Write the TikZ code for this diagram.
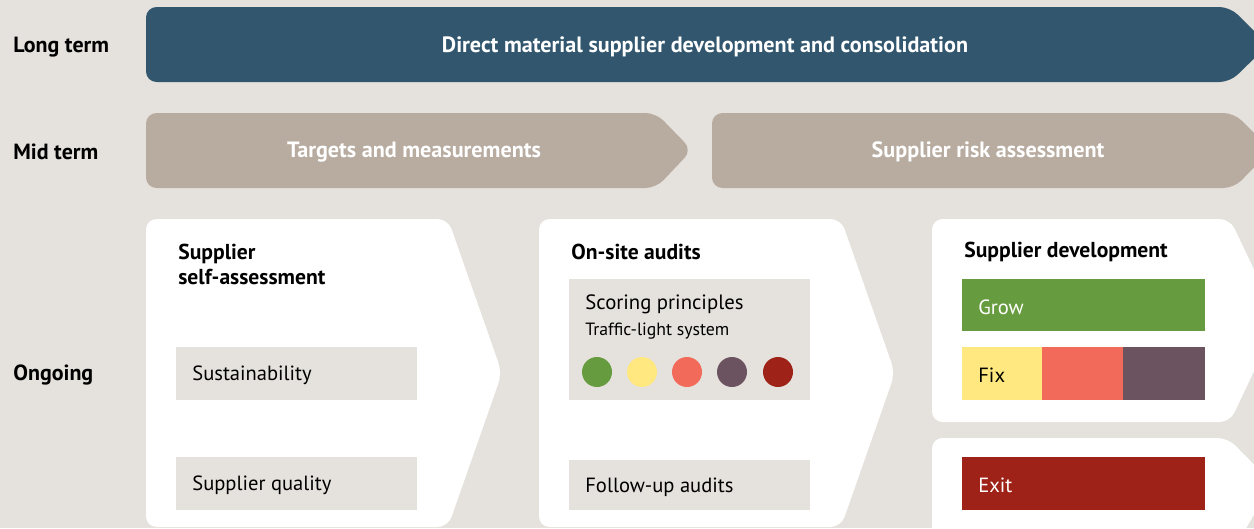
\documentclass[tikz,border=0pt]{standalone}
\usepackage{fontspec}
\setmainfont{PT Sans}
\usetikzlibrary{positioning}
\definecolor{bgc}{HTML}{E5E1DC}
\definecolor{longc}{HTML}{31566E}
\definecolor{midc}{HTML}{B8ACA1}
\definecolor{growc}{HTML}{669C3F}
\definecolor{yelc}{HTML}{FFE880}
\definecolor{salc}{HTML}{F26A5A}
\definecolor{purc}{HTML}{6B545F}
\definecolor{redc}{HTML}{9E2218}
\tikzset{
    rowlabel/.style={anchor=west, inner sep=0pt, font=\bfseries\fontsize{12.5}{14}\selectfont},
    bartext/.style={text=white, inner sep=0pt, font=\bfseries\fontsize{12.6}{14}\selectfont},
    head/.style={anchor=west, inner sep=0pt, align=left, font=\bfseries\fontsize{12.3}{14.2}\selectfont},
    boxtext/.style={anchor=west, inner sep=0pt, font=\fontsize{11.7}{13}\selectfont},
    longbar/.style={fill=longc, rounded corners=6pt},
    midbar/.style={fill=midc, rounded corners=6pt},
    stage/.style={fill=white, rounded corners=6pt},
    graybox/.style={fill=bgc},
    lamp/.style={circle, minimum size=30*0.02cm, inner sep=0pt},
}
\begin{document}
\begin{tikzpicture}[x={(0.02cm,0)}, y={(0,-0.02cm)}]
\useasboundingbox (0,0) rectangle (1254,528);
\fill[bgc] (0,0) rectangle (1254,528);
\clip (0,0) rectangle (1254,528);
% row labels
\node[rowlabel] (long) at (13,47) {Long term};
\node[rowlabel] (mid) at (13,152) {Mid term};
\node[rowlabel] (ongo) at (13,375) {Ongoing};
% long term
\fill[longbar] (146,7) -- (1230,7) -- (1268,45) -- (1230,82) -- (146,82) -- cycle;
\node[bartext] (consol) at (705,47) {Direct material supplier development and consolidation};
% mid term
\fill[midbar] (146,113) -- (656,113) -- (692,150) -- (656,188) -- (146,188) -- cycle;
\fill[midbar] (712,113) -- (1234,113) -- (1271,150) -- (1234,188) -- (712,188) -- cycle;
\node[bartext] (targets) at (414,152) {Targets and measurements};
\node[bartext] (risk) at (988,152) {Supplier risk assessment};
% ongoing stages
\fill[stage] (146,219) -- (448,219) -- (502,373) -- (448,527) -- (146,527) -- cycle;
\fill[stage] (539,219) -- (841,219) -- (895,373) -- (841,527) -- (539,527) -- cycle;
\fill[stage] (932,219) -- (1230,219) -- (1278,320) -- (1230,422) -- (932,422) -- cycle;
\fill[stage] (932,438) -- (1228,438) -- (1272,483) -- (1228,560) -- (932,560) -- cycle;
% self-assessment
\node[head] (selfass) at (178,264) {Supplier\\self-assessment};
\fill[graybox] (176,347) rectangle (417,400);
\node[boxtext] (sust) at (192,375) {Sustainability};
\fill[graybox] (176,457) rectangle (417,510);
\node[boxtext] (qual) at (192,485) {Supplier quality};
% audits
\node[head] (audits) at (571,252) {On-site audits};
\fill[graybox] (569,279) rectangle (810,400);
\node[boxtext, font=\fontsize{11.8}{13}\selectfont] (scoring) at (585,304) {Scoring principles};
\node[boxtext, font=\fontsize{10.1}{12}\selectfont] (traffic) at (585,331) {Traffic-light system};
\foreach \cx/\cc [count=\i] in {597/growc, 642/yelc, 687/salc, 732/purc, 778/redc}
    \node[lamp, fill=\cc] (lamp\i) at (\cx,372) {};
\fill[graybox] (569,460) rectangle (810,510);
\node[boxtext] (follow) at (585,487) {Follow-up audits};
% development
\node[head] (devel) at (964,252) {Supplier development};
\fill[growc] (962,279) rectangle (1205,331);
\node[boxtext, text=white] (grow) at (978,307) {Grow};
\fill[yelc] (962,347) rectangle (1042,400);
\fill[salc] (1042,347) rectangle (1123,400);
\fill[purc] (1123,347) rectangle (1205,400);
\node[boxtext] (fix) at (978,375) {Fix};
\fill[redc] (962,457) rectangle (1205,510);
\node[boxtext, text=white] (exit) at (978,485) {Exit};
\end{tikzpicture}
\end{document}
